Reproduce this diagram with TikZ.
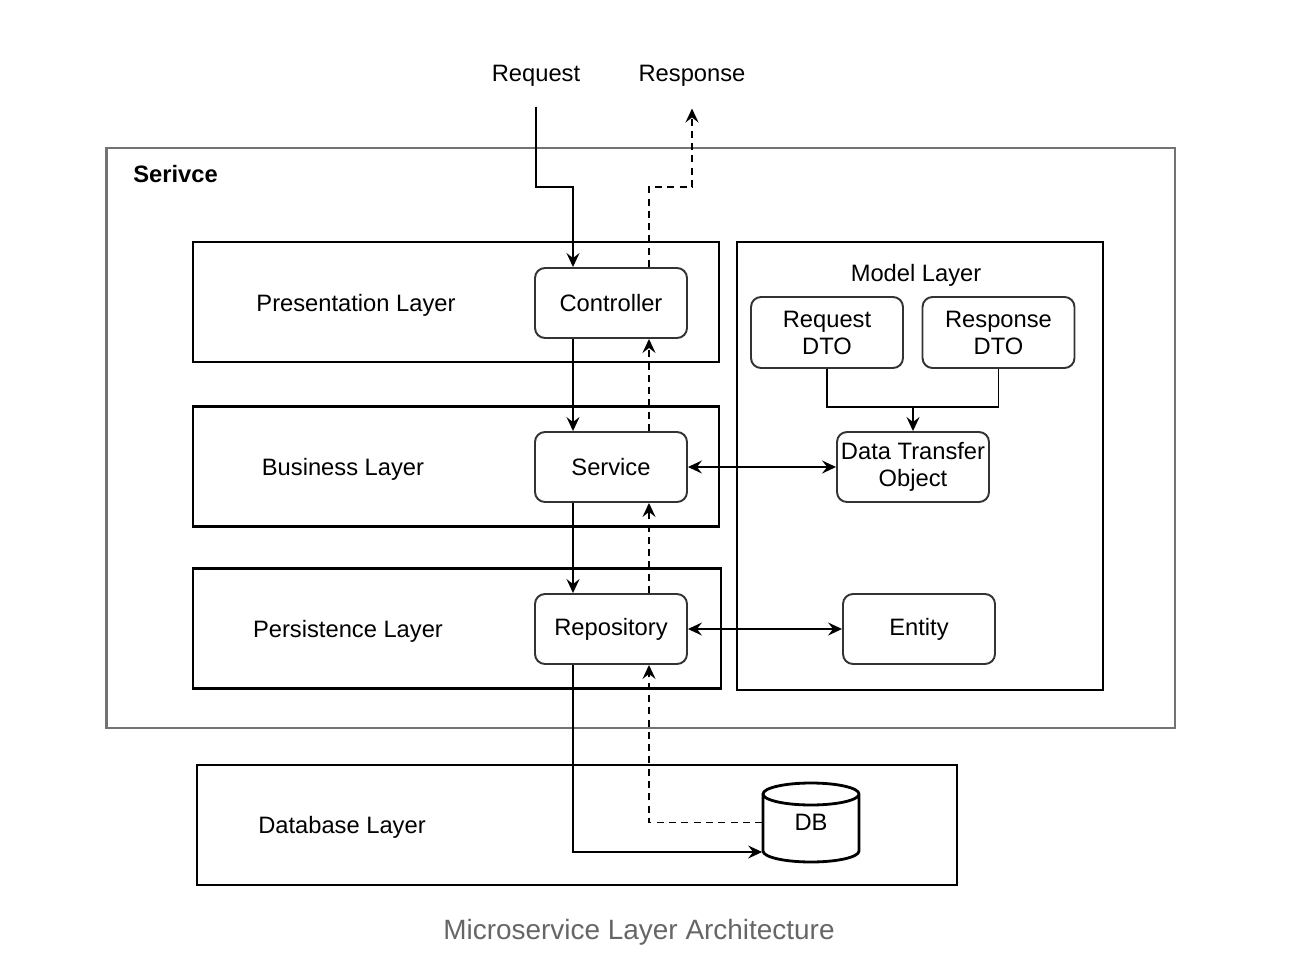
\documentclass[tikz,border=0pt]{standalone}
\usepackage{fontspec}
\setmainfont{Liberation Sans}
\usepackage{xcolor}
\usepackage{tikz}
\usetikzlibrary{positioning}
\usetikzlibrary{arrows.meta}
\tikzset{>={Stealth[width=2.6mm,length=2.8mm,inset=1mm]}}
\definecolor{captiongray}{HTML}{666666}

\begin{document}
\begin{tikzpicture}[x=0.02cm, y=-0.02cm, line width=1pt, font=\fontsize{13.5}{15.4}\selectfont, layernode/.style={draw=black, line width=1.2pt, minimum height=2.4cm, inner sep=0pt}, boxnode/.style={rounded corners=0.2cm, draw=black!80, line width=1.1pt, minimum width=3.04cm, minimum height=1.4cm, align=center, inner sep=1pt}, emptynode/.style={draw=none, fill=none, inner sep=2pt}, flow/.style={->, line width=1pt}, back/.style={->, line width=1pt, dash pattern=on 4pt off 3pt}]

    \useasboundingbox (0,0) rectangle (1314,966);

    %Boxes
    \node[layernode, draw=black!55, line width=1.6pt, minimum width=21.38cm, minimum height=11.6cm](service_box) at (640.5,438){};
    \node[layernode, minimum width=10.52cm](presentation_box) at (456,302){};
    \node[layernode, minimum width=10.52cm](business_box) at (456,466.5){};
    \node[layernode, minimum width=10.56cm](persistence_box) at (457,628.5){};
    \node[layernode, minimum width=7.32cm, minimum height=8.96cm](model_box) at (920,466){};
    \node[layernode, minimum width=15.2cm](database_box) at (577,825){};

    %Nodes
    \node[emptynode, anchor=west, font=\fontsize{13.5}{15.4}\selectfont\bfseries](service_text) at (129,174){Serivce};
    \node[emptynode](request_text) at (536,75.5){Request};
    \node[emptynode](response_text) at (692,75.5){Response};
    \node[emptynode](presentation_text) at (356,305){Presentation Layer};
    \node[emptynode](business_text) at (343,469){Business Layer};
    \node[emptynode](persistence_text) at (348,631){Persistence Layer};
    \node[emptynode](database_text) at (342,827){Database Layer};
    \node[emptynode](model_text) at (916,275){Model Layer};
    \node[boxnode](controller) at (611,303){Controller};
    \node[boxnode](service) at (611,467){Service};
    \node[boxnode](repository) at (611,629){Repository};
    \node[boxnode, minimum height=1.42cm](reqdto) at (827,332.5){Request\\DTO};
    \node[boxnode, minimum height=1.42cm](respdto) at (998.5,332.5){Response\\DTO};
    \node[boxnode](dto) at (913,467){Data Transfer\\Object};
    \node[boxnode](entity) at (919,629){Entity};
    \draw[line width=1.6pt] (763,794) -- (763,851) arc[start angle=180, end angle=360, x radius=0.96cm, y radius=0.22cm] -- (859,794) arc[start angle=0, end angle=180, x radius=0.96cm, y radius=0.22cm] arc[start angle=180, end angle=360, x radius=0.96cm, y radius=0.22cm];
    \node[emptynode, minimum width=1.92cm, minimum height=1.58cm, inner sep=0pt](db) at (811,822.5){DB};
    \node[emptynode, text=captiongray, font=\fontsize{15.9}{18}\selectfont](caption) at (639,932.5){Microservice Layer Architecture};

    %Lines
    \coordinate (request_bend) at (573,187);
    \coordinate (response_bend) at (692,187);
    \coordinate (dto_join) at (913,407);
    \draw[flow, shorten <=0.32cm] (request_text) |- (request_bend) -- (request_bend |- controller.north);
    \draw[back, shorten >=0.36cm] ([xshift=0.76cm]controller.north) |- (response_bend) -- (response_text);
    \draw[flow] ([xshift=-0.76cm]controller.south) -- ([xshift=-0.76cm]service.north);
    \draw[back] ([xshift=0.76cm]service.north) -- ([xshift=0.76cm]controller.south);
    \draw[flow] ([xshift=-0.76cm]service.south) -- ([xshift=-0.76cm]repository.north);
    \draw[back] ([xshift=0.76cm]repository.north) -- ([xshift=0.76cm]service.south);
    \draw[flow] ([xshift=-0.76cm]repository.south) |- ([yshift=-0.59cm]db.west);
    \draw[back] (db.west) -| ([xshift=0.76cm]repository.south);
    \draw[<->] (service.east) -- (dto.west);
    \draw[<->] (repository.east) -- (entity.west);
    \draw (reqdto.south) |- (dto_join) -| (respdto.south);
    \draw[flow] (dto_join) -- (dto.north);

\end{tikzpicture}
\end{document}
